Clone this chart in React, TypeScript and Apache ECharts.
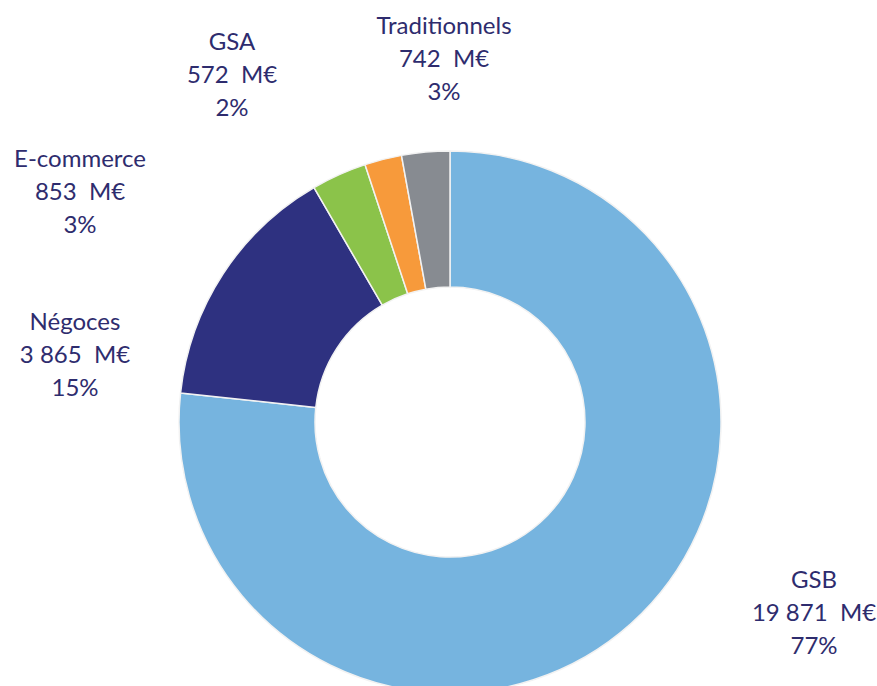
import React, { useEffect, useRef } from "react";
import * as echarts from "echarts";

const categories = ["GSB", "Négoces", "E-commerce", "GSA", "Traditionnels"];
const values = [19871, 3865, 853, 572, 742];
const colors = ["#76B4DF", "#2E3180", "#8BC34A", "#F79A3B", "#878B91"];
// label anchor points (centre of the 3-line label block)
const labelPos: [number, number][] = [
  [814, 611],
  [75, 353],
  [80, 190],
  [232, 73],
  [444, 57],
];

function fmt(n: number): string {
  return String(n).replace(/\B(?=(\d{3})+(?!\d))/g, " ");
}

export default function App() {
  const ref = useRef<HTMLDivElement>(null);
  useEffect(() => {
    if (!ref.current) return;
    const chart = echarts.init(ref.current, undefined, { renderer: "svg" });
    chart.setOption({
      animation: false,
      backgroundColor: "#ffffff",
      series: [
        {
          type: "pie",
          center: [450, 422],
          radius: [135, 271],
          startAngle: 90,
          clockwise: true,
          avoidLabelOverlap: false,
          data: categories.map((c, i) => ({
            name: c,
            value: values[i],
            itemStyle: { color: colors[i] },
          })),
          itemStyle: { borderColor: "#f2f2f2", borderWidth: 1.5 },
          label: {
            show: true,
            position: "outside",
            color: "#2E2C6E",
            fontFamily: "Lato",
            fontSize: 24,
            lineHeight: 33,
            align: "center",
            formatter: (p: any) =>
              `${p.name}\n${fmt(p.value)}  M€\n${Math.round(p.percent)}%`,
          },
          labelLine: { show: false },
          labelLayout: (p: any) => ({
            x: labelPos[p.dataIndex][0],
            y: labelPos[p.dataIndex][1],
            align: "center",
            verticalAlign: "middle",
          }),
          emphasis: { disabled: true },
        },
      ],
    });
    return () => chart.dispose();
  }, []);
  return (
    <div
      ref={ref}
      style={{ position: "fixed", left: 0, top: 0, width: 877, height: 686 }}
    />
  );
}
